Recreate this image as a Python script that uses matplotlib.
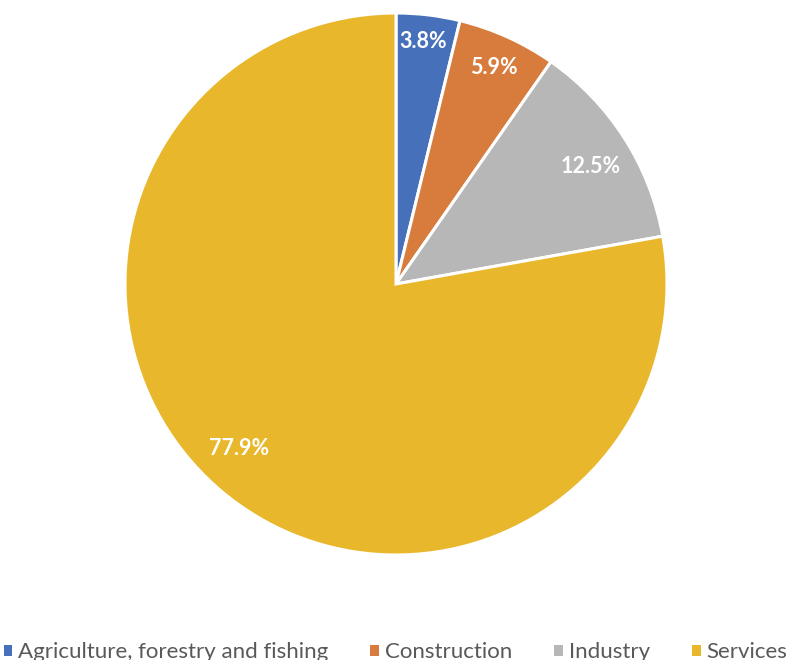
import matplotlib
matplotlib.use("Agg")
import matplotlib.pyplot as plt
from matplotlib.patches import Patch

# sector shares of employment (%)
sectors = ["Agriculture, forestry and fishing", "Construction", "Industry", "Services"]
shares = [3.8, 5.9, 12.5, 77.9]
share_labels = ["3.8%", "5.9%", "12.5%", "77.9%"]
colors = ["#4671BA", "#D77C3D", "#B7B7B7", "#E8B72B"]

# label spots (axes units, pie radius = 1), Excel "best fit" style
label_xy = [(0.10, 0.895), (0.36, 0.80), (0.72, 0.435), (-0.58, -0.607)]

W, H = 791, 660
fig = plt.figure(figsize=(W / 100, H / 100), dpi=100)
cx, cy, r = 396, 284, 271
ax = fig.add_axes([(cx - r) / W, (H - cy - r) / H, 2 * r / W, 2 * r / H])

wedges, _ = ax.pie(shares, colors=colors, startangle=90, counterclock=False,
                   radius=1.0, wedgeprops=dict(edgecolor="white", linewidth=2.2))
ax.set_xlim(-1.0, 1.0)
ax.set_ylim(-1.0, 1.0)
ax.set_aspect("equal")
ax.axis("off")

for lab, (x, y) in zip(share_labels, label_xy):
    ax.text(x, y, lab, ha="center", va="center", color="white",
            fontsize=15.5, fontweight="bold", family="Lato")

handles = [Patch(facecolor=c, edgecolor="none") for c in colors]
fig.legend(handles, sectors, loc="center", bbox_to_anchor=(0.5, 0.012), ncol=4,
           frameon=False, handlelength=0.4, handleheight=0.4, handletextpad=0.25,
           columnspacing=1.9, borderpad=0.1, prop=dict(family="Lato", size=16),
           labelcolor="#595959")

fig.savefig("out.png", dpi=100)
